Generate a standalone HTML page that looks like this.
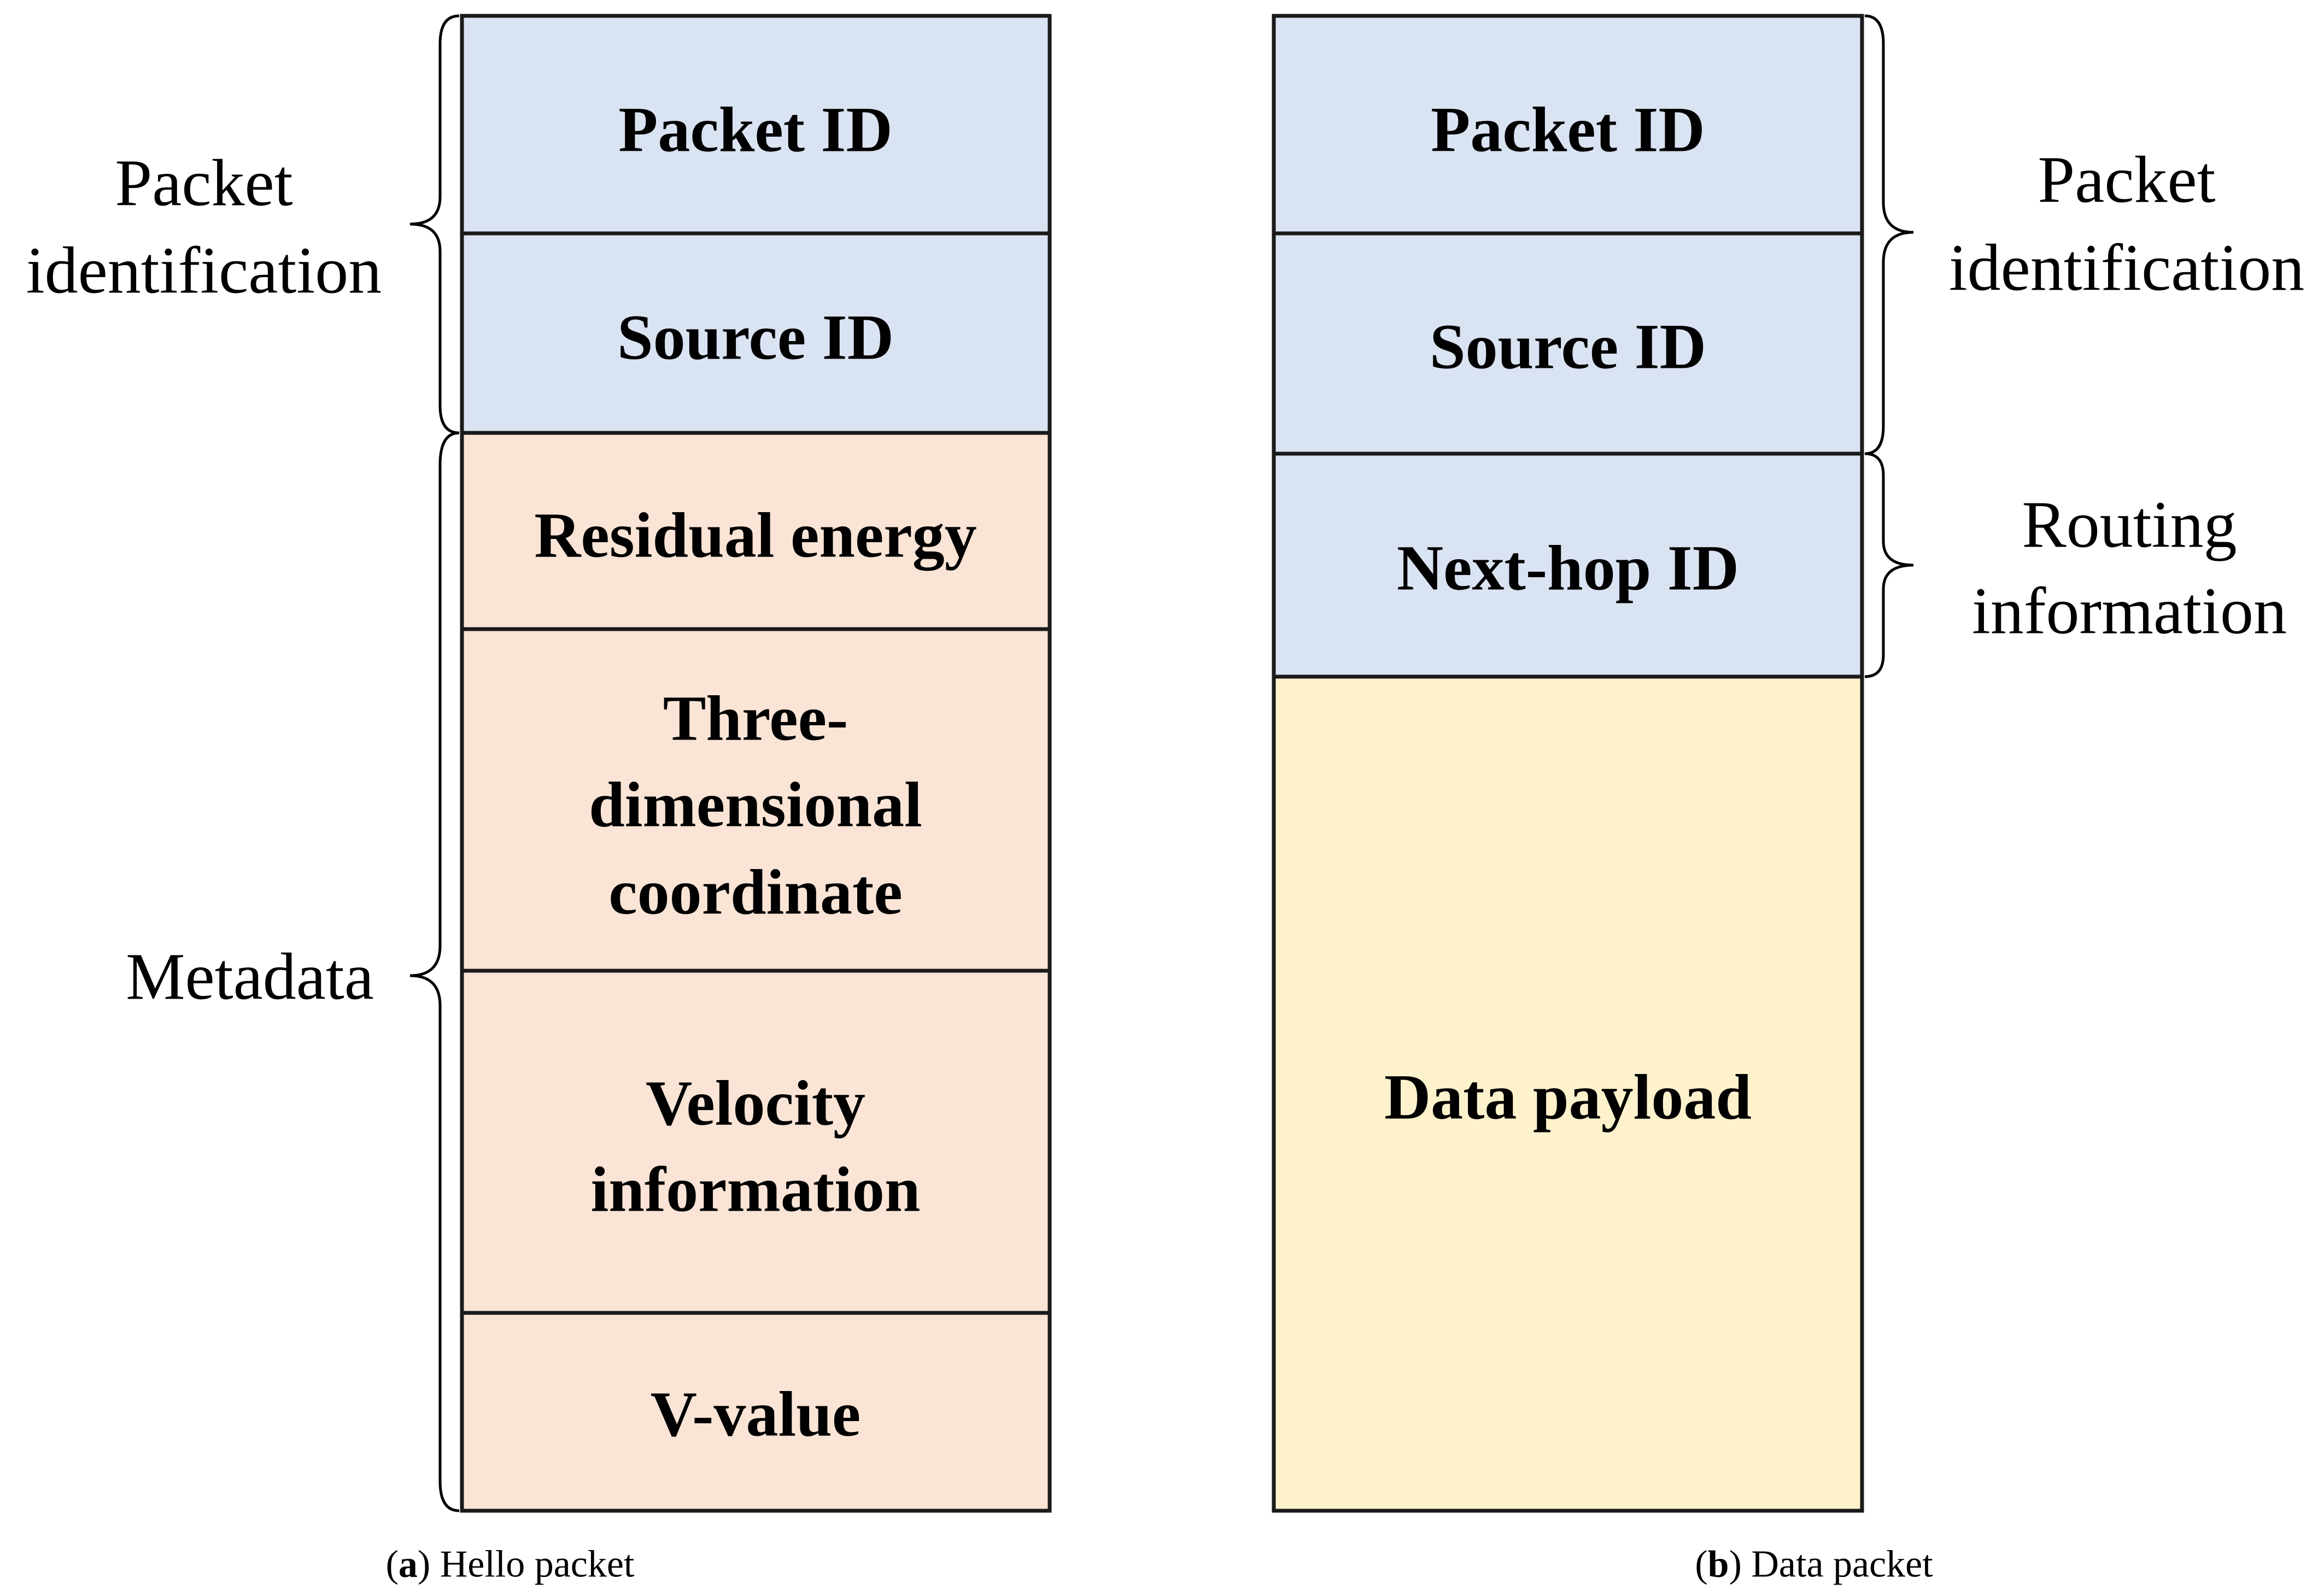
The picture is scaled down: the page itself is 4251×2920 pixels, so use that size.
<!DOCTYPE html>
<html><head><meta charset="utf-8"><style>
html,body{margin:0;padding:0;background:#fff;}
svg{display:block;}
text{font-family:"Liberation Serif","DejaVu Serif",serif;fill:#000;}
.b{font-weight:bold;font-size:118px;}
.r{font-size:122px;}
.c{font-size:70px;}
</style></head><body>
<svg width="4251" height="2920" viewBox="0 0 4251 2920" xmlns="http://www.w3.org/2000/svg">
<g stroke="#1a1a1a" stroke-width="7">
<rect x="845" y="29" width="1075" height="398" fill="#dae3f2"/>
<rect x="845" y="427" width="1075" height="365" fill="#dae3f2"/>
<rect x="845" y="792" width="1075" height="359" fill="#f9e4d6"/>
<rect x="845" y="1151" width="1075" height="625" fill="#f9e4d6"/>
<rect x="845" y="1776" width="1075" height="626" fill="#f9e4d6"/>
<rect x="845" y="2402" width="1075" height="362" fill="#f9e4d6"/>
<rect x="2330" y="29" width="1076" height="398" fill="#dae3f2"/>
<rect x="2330" y="427" width="1076" height="403" fill="#dae3f2"/>
<rect x="2330" y="830" width="1076" height="408" fill="#dae3f2"/>
<rect x="2330" y="1238" width="1076" height="1526" fill="#fef2cc"/>
</g>
<g fill="none" stroke="#000" stroke-width="5">
<path d="M840 29 Q805 29 805 80 L805 360 Q805 410 750 410 Q805 410 805 460 L805 742 Q805 792 840 792"/>
<path d="M840 792 Q805 792 805 850 L805 1730 Q805 1785 750 1785 Q805 1785 805 1840 L805 2710 Q805 2764 840 2764"/>
<path d="M3411 29 Q3445 29 3445 80 L3445 370 Q3445 425 3500 425 Q3445 425 3445 480 L3445 780 Q3445 830 3411 830"/>
<path d="M3411 830 Q3445 830 3445 870 L3445 990 Q3445 1034 3500 1034 Q3445 1034 3445 1078 L3445 1198 Q3445 1238 3411 1238"/>
</g>
<g text-anchor="middle" dominant-baseline="central">
<text class="b" x="1382" y="237">Packet ID</text>
<text class="b" x="1382" y="617">Source ID</text>
<text class="b" x="1382" y="979">Residual energy</text>
<text class="b" x="1382" y="1314">Three-</text>
<text class="b" x="1382" y="1472">dimensional</text>
<text class="b" x="1382" y="1632">coordinate</text>
<text class="b" x="1382" y="2018">Velocity</text>
<text class="b" x="1382" y="2176">information</text>
<text class="b" x="1382" y="2587">V-value</text>
<text class="b" x="2868" y="237">Packet ID</text>
<text class="b" x="2868" y="634">Source ID</text>
<text class="b" x="2868" y="1039">Next-hop ID</text>
<text class="b" x="2868" y="2007">Data payload</text>
<text class="r" x="373" y="335">Packet</text>
<text class="r" x="373" y="495">identification</text>
<text class="r" x="457" y="1787">Metadata</text>
<text class="r" x="3890" y="329">Packet</text>
<text class="r" x="3890" y="490">identification</text>
<text class="r" x="3895" y="960">Routing</text>
<text class="r" x="3895" y="1118">information</text>
<text class="c" x="933" y="2862">(<tspan font-weight="bold">a</tspan>) Hello packet</text>
<text class="c" x="3318" y="2862">(<tspan font-weight="bold">b</tspan>) Data packet</text>
</g>
</svg>
</body></html>
